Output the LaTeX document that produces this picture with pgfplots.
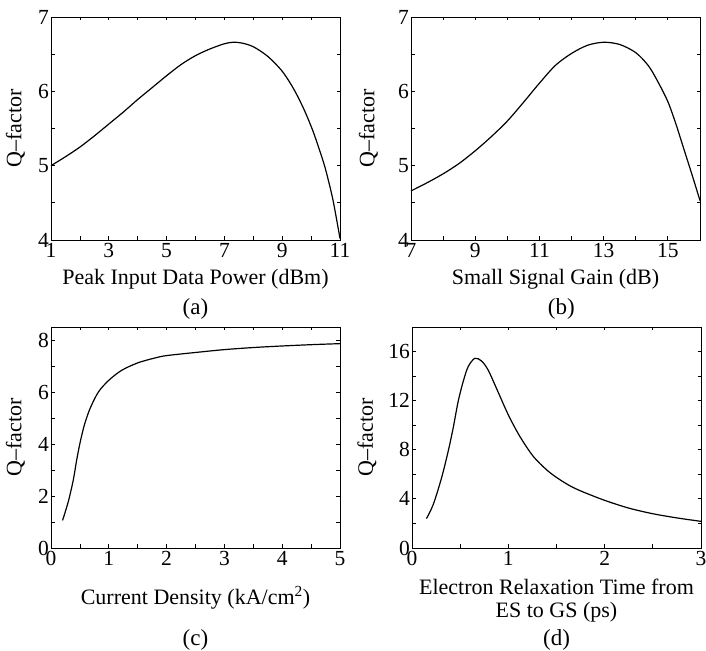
\documentclass[border=0pt]{standalone}
\usepackage{pgfplots}
\pgfplotsset{compat=1.18}
\usepackage{fontspec}
\setmainfont{Liberation Serif}

\pgfplotsset{
    qpanel/.style={
        scale only axis,
        width=289pt,
        height=223pt,
        anchor=north west,
        tick align=inside,
        tick pos=both,
        major tick length=3.5pt,
        minor tick length=3.5pt,
        minor tick num=1,
        axis line style={line width=0.9pt},
        every tick/.style={black, line width=0.8pt},
        tick label style={font=\fontsize{21.5}{24}\selectfont},
        /pgf/number format/assume math mode=true,
        yticklabel style={inner xsep=2pt},
        label style={font=\fontsize{22}{23}\selectfont},
        clip=false,
    },
}
\tikzset{
    qline/.style={black, line width=1.2pt, smooth, no marks},
    qtag/.style={font=\fontsize{23}{26}\selectfont},
}

\begin{document}
\begin{tikzpicture}
    \useasboundingbox (0,0) rectangle (706pt,650pt);

    % (a)
    \begin{axis}[
        qpanel,
        at={(51pt,633pt)},
        xmin=1, xmax=11, ymin=4, ymax=7,
        xtick={1,3,5,7,9,11},
        ytick={4,5,6,7},
        xlabel={Peak Input Data Power (dBm)},
        ylabel={Q--factor},
        xlabel style={at={(axis description cs:0.5,-0.175)}, anchor=center},
        ylabel style={at={(axis description cs:-0.123,0.5)}, anchor=center},
    ]
        \addplot[qline] coordinates {
            (1,5.00) (1.5,5.12) (2,5.25) (2.5,5.40) (3,5.56) (3.5,5.72)
            (4,5.89) (4.5,6.05) (5,6.21) (5.5,6.36) (6,6.48) (6.5,6.57)
            (7,6.64) (7.3,6.66) (7.6,6.65) (8,6.60) (8.5,6.47) (9,6.27)
            (9.4,6.03) (9.75,5.76) (10.05,5.48) (10.3,5.20) (10.5,4.95)
            (10.75,4.55) (11,4.02)
        };
        \node[qtag] at (axis description cs:0.5,-0.31) {(a)};
    \end{axis}

    % (b)
    \begin{axis}[
        qpanel,
        at={(411pt,633pt)},
        xmin=7, xmax=16, ymin=4, ymax=7,
        xtick={7,9,11,13,15},
        ytick={4,5,6,7},
        xlabel={Small Signal Gain (dB)},
        ylabel={Q--factor},
        xlabel style={at={(axis description cs:0.5,-0.175)}, anchor=center},
        ylabel style={at={(axis description cs:-0.147,0.5)}, anchor=center},
    ]
        \addplot[qline] coordinates {
            (7,4.66) (7.5,4.77) (8,4.89) (8.5,5.03) (9,5.20) (9.5,5.39)
            (10,5.60) (10.5,5.85) (11,6.11) (11.5,6.35) (12,6.51) (12.5,6.62)
            (13,6.66) (13.5,6.63) (14,6.52) (14.4,6.34) (14.7,6.12) (15,5.86)
            (15.25,5.56) (15.5,5.22) (15.75,4.88) (16,4.53)
        };
        \node[qtag] at (axis description cs:0.52,-0.31) {(b)};
    \end{axis}

    % (c)
    \begin{axis}[
        qpanel,
        at={(51pt,323pt)},
        height=221pt,
        xmin=0, xmax=5, ymin=0, ymax=8.5,
        xtick={0,1,2,3,4,5},
        ytick={0,2,4,6,8},
        xlabel={Current Density (kA/cm\textsuperscript{2})},
        ylabel={Q--factor},
        xlabel style={at={(axis description cs:0.5,-0.226)}, anchor=center},
        ylabel style={at={(axis description cs:-0.123,0.5)}, anchor=center},
    ]
        \addplot[qline] coordinates {
            (0.2,1.06) (0.3,1.79) (0.386,2.62) (0.444,3.38) (0.5,4.02)
            (0.577,4.73) (0.675,5.36) (0.82,6.00) (1.0,6.45) (1.22,6.83)
            (1.5,7.12) (1.8,7.31) (2,7.40) (2.5,7.52) (3,7.63) (3.5,7.71)
            (4,7.77) (4.5,7.82) (5,7.86)
        };
        \node[qtag] at (axis description cs:0.5,-0.415) {(c)};
    \end{axis}

    % (d)
    \begin{axis}[
        qpanel,
        at={(412pt,323pt)},
        height=221pt,
        xmin=0, xmax=3, ymin=0, ymax=18,
        xtick={0,1,2,3},
        ytick={0,4,8,12,16},
        xlabel={Electron Relaxation Time from\\ES to GS (ps)},
        ylabel={Q--factor},
        xlabel style={at={(axis description cs:0.5,-0.24)}, anchor=center, align=center},
        ylabel style={at={(axis description cs:-0.156,0.5)}, anchor=center},
    ]
        \addplot[qline] coordinates {
            (0.15,2.40) (0.22,3.53) (0.306,5.69) (0.375,7.86) (0.427,9.76)
            (0.479,11.93) (0.531,13.55) (0.583,14.77) (0.652,15.45)
            (0.722,15.23) (0.79,14.50) (0.877,13.00) (1.0,10.84) (1.12,9.08)
            (1.26,7.45) (1.4,6.35) (1.5,5.75) (1.62,5.15) (1.75,4.65)
            (2,3.88) (2.25,3.25) (2.5,2.79) (2.75,2.45) (3,2.17)
        };
        \node[qtag] at (axis description cs:0.5,-0.415) {(d)};
    \end{axis}
\end{tikzpicture}
\end{document}
